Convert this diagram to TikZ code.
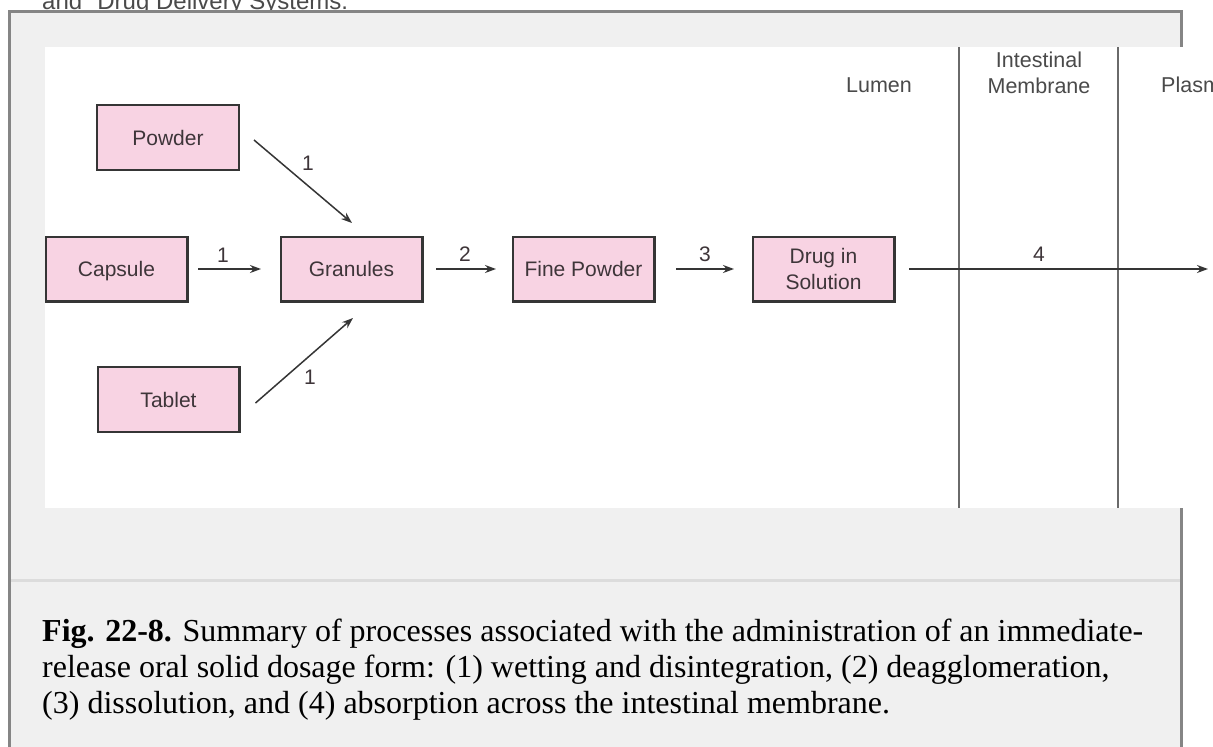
\documentclass[tikz,border=0pt]{standalone}
\usepackage{fontspec}
\setmainfont{Liberation Serif}
\newfontfamily\lsans{Liberation Sans}
\usetikzlibrary{arrows.meta}
\definecolor{framegray}{HTML}{858585}
\definecolor{panel}{HTML}{F0F0F0}
\definecolor{sepgray}{HTML}{DCDCDC}
\definecolor{boxpink}{HTML}{F8D3E3}
\definecolor{boxline}{HTML}{353535}
\definecolor{inkgray}{HTML}{3E3539}
\definecolor{topgray}{HTML}{4A4A4A}
\definecolor{wallgray}{HTML}{6A6A6A}
\begin{document}
\begin{tikzpicture}[x=1pt,y=-1pt,
  stage/.style={draw=boxline, line width=2.3pt, fill=boxpink, minimum width=141.7pt, minimum height=64.7pt, inner sep=0pt, font=\lsans\fontsize{21}{26}\selectfont, text=inkgray, align=center},
  flow/.style={draw=boxline, line width=1.5pt, -{Stealth[length=11pt,width=8pt]}},
  num/.style={font=\lsans\fontsize{21}{24}\selectfont, text=inkgray, inner sep=0pt},
  head/.style={font=\lsans\fontsize{21.5}{25}\selectfont, text=topgray, inner sep=0pt},
  capline/.style={font=\fontsize{32}{36}\selectfont, text=black, inner sep=0pt, anchor=base west},
  wall/.style={draw=wallgray, line width=1.5pt}
]
\useasboundingbox (0,0) rectangle (1213,747);
\clip (0,0) rectangle (1213,747);
\fill[white] (0,0) rectangle (1213,747);
% source line at the very top (cut off)
\node[anchor=base west, font=\lsans\fontsize{24}{28}\selectfont, text=topgray, inner sep=0pt] (src) at (42,9) {and "Drug Delivery Systems.};
% frame
\fill[panel] (9,11) rectangle (1182,747);
\draw[sepgray, line width=3pt] (11,580) -- (1180,580);
\draw[framegray, line width=3pt] (9.5,10) -- (9.5,747);
\draw[framegray, line width=3pt] (8,11.5) -- (1183,11.5);
\draw[framegray, line width=3pt] (1181,10) -- (1181,747);
% figure image area
\fill[white] (45,47) rectangle (1213,508);
% walls
\draw[wall] (959,47) -- (959,508);
\draw[wall] (1118,47) -- (1118,508);
% headers
\node[head, anchor=base] (lumen) at (879,92) {Lumen};
\node[head, anchor=base] (intest) at (1039,67) {Intestinal};
\node[head, anchor=base] (membr) at (1039,93) {Membrane};
\node[head, anchor=base west] (plasma) at (1161,92) {Plasma};
% boxes
\node[stage] (powder) at (168,137.5) {Powder};
\node[stage, text depth=0pt] (capsule) at (116.5,269) {Capsule};
\node[stage] (granules) at (351.5,269) {Granules};
\node[stage] (tablet) at (168.5,399.5) {Tablet};
\node[stage] (fine) at (583.5,269) {Fine Powder};
\node[stage] (drug) at (823.5,269) {Drug in\\Solution};
\coordinate (plasmaend) at (1208,269);
% connectors
\draw[flow] ([shift={(14,2.5)}]powder.east) -- ([shift={(0.5,-12.5)}]granules.north);
\draw[flow] ([shift={(15,3.5)}]tablet.east) -- ([shift={(1.5,15.5)}]granules.south);
\draw[flow, shorten <=9.5pt, shorten >=18.5pt] (capsule.east) -- (granules.west);
\draw[flow, shorten <=12.5pt, shorten >=15.5pt] (granules.east) -- (fine.west);
\draw[flow, shorten <=20.5pt, shorten >=17.5pt] (fine.east) -- (drug.west);
\draw[flow, shorten <=13.5pt] (drug.east) -- (plasmaend);
% step numbers
\node[num] (n1a) at (308,163) {1};
\node[num] (n1b) at (223,255.5) {1};
\node[num] (n1c) at (310,377) {1};
\node[num] (n2) at (465,254.5) {2};
\node[num] (n3) at (705,254.5) {3};
\node[num] (n4) at (1039,254.5) {4};
% caption
\node[capline] (cap1) at (42,641) {\textbf{Fig. 22-8.} Summary of processes associated with the administration of an immediate-};
\node[capline] (cap2) at (42,677) {release oral solid dosage form: (1) wetting and disintegration, (2) deagglomeration,};
\node[capline] (cap3) at (42,713) {(3) dissolution, and (4) absorption across the intestinal membrane.};
\end{tikzpicture}
\end{document}
